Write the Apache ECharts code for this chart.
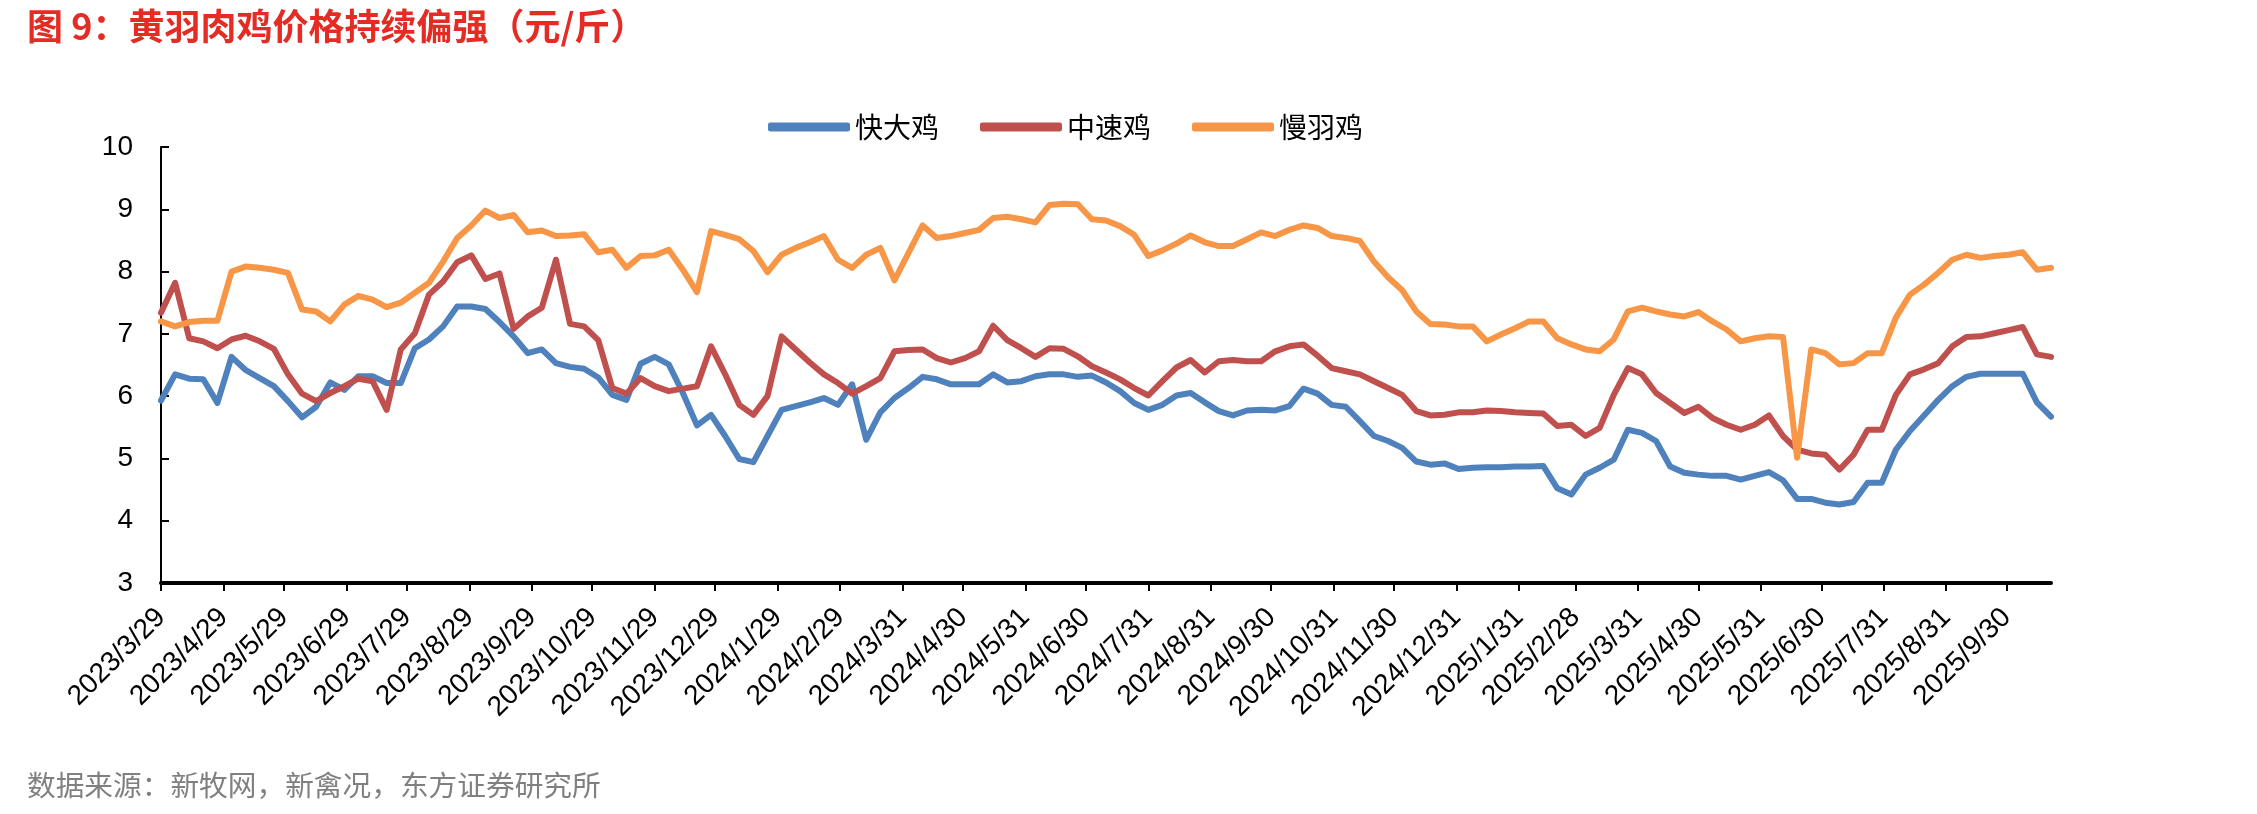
<!DOCTYPE html>
<html>
<head>
<meta charset="utf-8">
<script src="https://cdn.jsdelivr.net/npm/echarts@6/dist/echarts.min.js"></script>
<style>
html,body{margin:0;padding:0;background:#fff;}
#chart{width:2257px;height:814px;}
</style>
</head>
<body>
<div id="chart"></div>
<script>
// Weekly observation dates
const dates = [
'2023/3/29','2023/4/5','2023/4/12','2023/4/19','2023/4/26','2023/5/3','2023/5/10','2023/5/17','2023/5/24','2023/5/31',
'2023/6/7','2023/6/14','2023/6/21','2023/6/28','2023/7/5','2023/7/12','2023/7/19','2023/7/26','2023/8/2','2023/8/9',
'2023/8/16','2023/8/23','2023/8/30','2023/9/6','2023/9/13','2023/9/20','2023/9/27','2023/10/4','2023/10/11','2023/10/18',
'2023/10/25','2023/11/1','2023/11/8','2023/11/15','2023/11/22','2023/11/29','2023/12/6','2023/12/13','2023/12/20','2023/12/27',
'2024/1/3','2024/1/10','2024/1/17','2024/1/24','2024/1/31','2024/2/7','2024/2/14','2024/2/21','2024/2/28','2024/3/6',
'2024/3/13','2024/3/20','2024/3/27','2024/4/3','2024/4/10','2024/4/17','2024/4/24','2024/5/1','2024/5/8','2024/5/15',
'2024/5/22','2024/5/29','2024/6/5','2024/6/12','2024/6/19','2024/6/26','2024/7/3','2024/7/10','2024/7/17','2024/7/24',
'2024/7/31','2024/8/7','2024/8/14','2024/8/21','2024/8/28','2024/9/4','2024/9/11','2024/9/18','2024/9/25','2024/10/2',
'2024/10/9','2024/10/16','2024/10/23','2024/10/30','2024/11/6','2024/11/13','2024/11/20','2024/11/27','2024/12/4','2024/12/11',
'2024/12/18','2024/12/25','2025/1/1','2025/1/8','2025/1/15','2025/1/22','2025/1/29','2025/2/5','2025/2/12','2025/2/19',
'2025/2/26','2025/3/5','2025/3/12','2025/3/19','2025/3/26','2025/4/2','2025/4/9','2025/4/16','2025/4/23','2025/4/30',
'2025/5/7','2025/5/14','2025/5/21','2025/5/28','2025/6/4','2025/6/11','2025/6/18','2025/6/25','2025/7/2','2025/7/9',
'2025/7/16','2025/7/23','2025/7/30','2025/8/6','2025/8/13','2025/8/20','2025/8/27','2025/9/3','2025/9/10','2025/9/17',
'2025/9/24','2025/10/1','2025/10/8','2025/10/15','2025/10/22'
];

// 快大鸡
const kuaiDa = [
5.93,6.35,6.28,6.27,5.89,6.63,6.42,6.29,6.16,5.92,
5.66,5.83,6.22,6.10,6.32,6.32,6.21,6.21,6.77,6.91,
7.12,7.44,7.44,7.40,7.19,6.96,6.69,6.75,6.53,6.47,
6.44,6.30,6.02,5.94,6.52,6.63,6.51,6.05,5.53,5.70,
5.36,4.99,4.94,5.36,5.78,5.84,5.90,5.97,5.86,6.19,
5.30,5.74,5.97,6.13,6.31,6.27,6.19,6.19,6.19,6.35,
6.22,6.24,6.32,6.35,6.35,6.31,6.33,6.22,6.08,5.89,
5.78,5.86,6.01,6.05,5.90,5.76,5.69,5.77,5.78,5.77,
5.84,6.12,6.04,5.86,5.83,5.60,5.36,5.28,5.17,4.95,
4.90,4.92,4.83,4.85,4.86,4.86,4.87,4.87,4.88,4.52,
4.42,4.74,4.85,4.98,5.46,5.41,5.28,4.87,4.77,4.74,
4.72,4.72,4.66,4.72,4.78,4.65,4.35,4.35,4.29,4.26,
4.30,4.61,4.61,5.14,5.44,5.69,5.94,6.16,6.31,6.36,
6.36,6.36,6.36,5.90,5.67
];

// 中速鸡
const zhongSu = [
7.34,7.82,6.93,6.88,6.77,6.91,6.97,6.88,6.76,6.35,
6.04,5.92,6.05,6.16,6.28,6.24,5.78,6.75,7.01,7.63,
7.84,8.15,8.26,7.88,7.97,7.08,7.28,7.42,8.19,7.16,
7.12,6.90,6.13,6.04,6.29,6.16,6.08,6.12,6.16,6.80,
6.35,5.86,5.70,6.00,6.96,6.75,6.54,6.35,6.21,6.04,
6.16,6.29,6.72,6.74,6.75,6.61,6.54,6.61,6.72,7.13,
6.90,6.77,6.63,6.77,6.76,6.64,6.48,6.38,6.27,6.13,
6.01,6.24,6.46,6.58,6.38,6.56,6.58,6.56,6.56,6.72,
6.80,6.83,6.65,6.45,6.40,6.35,6.24,6.13,6.02,5.76,
5.69,5.70,5.74,5.74,5.77,5.76,5.74,5.73,5.72,5.52,
5.54,5.36,5.49,6.02,6.45,6.35,6.05,5.89,5.73,5.83,
5.65,5.54,5.46,5.54,5.69,5.36,5.14,5.08,5.06,4.82,
5.06,5.46,5.46,6.02,6.35,6.43,6.53,6.80,6.95,6.96,
7.01,7.06,7.11,6.67,6.63
];

// 慢羽鸡
const manYu = [
7.20,7.12,7.19,7.21,7.21,8.00,8.08,8.06,8.03,7.98,
7.39,7.36,7.20,7.47,7.61,7.55,7.43,7.50,7.66,7.82,
8.16,8.54,8.74,8.98,8.86,8.91,8.63,8.66,8.57,8.58,
8.60,8.31,8.35,8.06,8.25,8.26,8.35,8.03,7.67,8.65,
8.59,8.52,8.33,7.99,8.27,8.38,8.47,8.57,8.19,8.06,
8.27,8.38,7.86,8.30,8.74,8.54,8.57,8.62,8.67,8.86,
8.88,8.84,8.79,9.07,9.09,9.08,8.84,8.82,8.73,8.59,
8.25,8.34,8.45,8.58,8.47,8.41,8.41,8.52,8.63,8.57,
8.67,8.74,8.70,8.57,8.54,8.49,8.16,7.91,7.70,7.36,
7.16,7.15,7.12,7.12,6.88,6.99,7.09,7.20,7.20,6.93,
6.83,6.75,6.72,6.91,7.36,7.42,7.36,7.31,7.28,7.35,
7.20,7.07,6.88,6.93,6.96,6.95,5.01,6.75,6.69,6.51,
6.53,6.69,6.69,7.26,7.63,7.79,7.98,8.19,8.27,8.22,
8.25,8.27,8.31,8.03,8.06
];

const tickLabels = [
'2023/3/29','2023/4/29','2023/5/29','2023/6/29','2023/7/29','2023/8/29','2023/9/29','2023/10/29',
'2023/11/29','2023/12/29','2024/1/29','2024/2/29','2024/3/31','2024/4/30','2024/5/31','2024/6/30',
'2024/7/31','2024/8/31','2024/9/30','2024/10/31','2024/11/30','2024/12/31','2025/1/31','2025/2/28',
'2025/3/31','2025/4/30','2025/5/31','2025/6/30','2025/7/31','2025/8/31','2025/9/30'
];

const seriesNames = ['快大鸡','中速鸡','慢羽鸡'];
const seriesColors = ['#4F81BD','#C0504D','#F79646'];
const seriesValues = [kuaiDa, zhongSu, manYu];

function toTs(s){ const p = s.split('/').map(Number); return new Date(p[0], p[1]-1, p[2]).getTime(); }
const xs = dates.map(toTs);
const tickTs = tickLabels.map(toTs);

const chart = echarts.init(document.getElementById('chart'));
chart.setOption({
  animation: false,
  backgroundColor: '#fff',
  title: [
    { text: '图 9：黄羽肉鸡价格持续偏强（元/斤）', left: 22, top: 3,
      textStyle: { fontSize: 36, fontWeight: 'bold', color: '#E42B24', fontFamily: 'Noto Sans CJK SC' } },
    { text: '数据来源：新牧网，新禽况，东方证券研究所', left: 22, top: 766,
      textStyle: { fontSize: 28.7, fontWeight: 'normal', color: '#808080', fontFamily: 'Noto Sans CJK SC' } }
  ],
  legend: {
    data: seriesNames, left: 763, top: 108, icon: 'roundRect',
    itemWidth: 82, itemHeight: 9, itemGap: 41,
    textStyle: { fontSize: 28, color: '#000', fontFamily: 'Noto Sans CJK SC' }
  },
  grid: { left: 161, right: 206, top: 147, bottom: 231, containLabel: false },
  xAxis: {
    type: 'value', min: xs[0], max: xs[xs.length-1], scale: true,
    axisLine: { show: true, onZero: false, lineStyle: { color: '#000', width: 4 } },
    axisTick: { show: true, inside: false, length: 8, lineStyle: { color: '#000', width: 2 }, customValues: tickTs },
    axisLabel: {
      customValues: tickTs, rotate: 45, fontSize: 28, color: '#000', margin: 30,
      fontFamily: 'Liberation Sans', showMinLabel: true, showMaxLabel: true,
      formatter: function(v){ const d = new Date(v); return d.getFullYear() + '/' + (d.getMonth()+1) + '/' + d.getDate(); }
    },
    splitLine: { show: false }
  },
  yAxis: {
    type: 'value', min: 3, max: 10, interval: 1,
    axisLine: { show: true, lineStyle: { color: '#000', width: 2 } },
    axisTick: { show: true, inside: true, length: 8, lineStyle: { color: '#000', width: 2 } },
    axisLabel: { fontSize: 28, color: '#000', margin: 28, fontFamily: 'Liberation Sans' },
    splitLine: { show: false }
  },
  series: seriesNames.map((n, k) => ({
    name: n, type: 'line', showSymbol: false, symbol: 'none',
    color: seriesColors[k],
    lineStyle: { width: 6, color: seriesColors[k], cap: 'round', join: 'round' },
    data: xs.map((t, i) => [t, seriesValues[k][i]])
  }))
});
</script>
</body>
</html>
